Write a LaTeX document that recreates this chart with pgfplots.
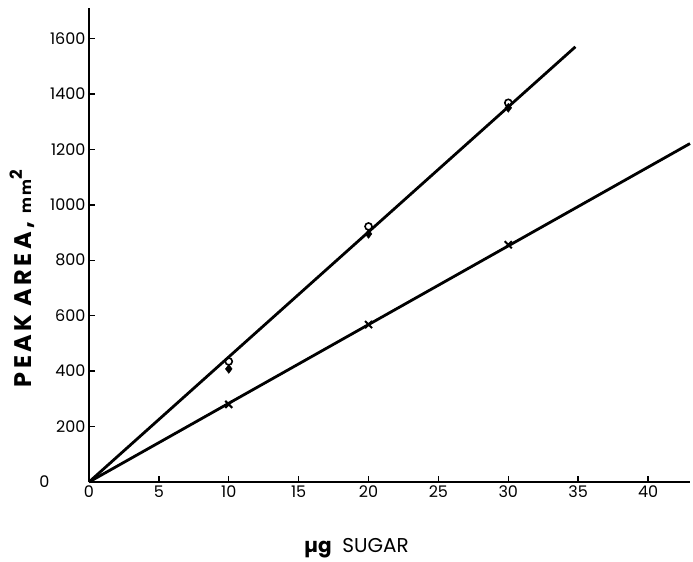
\documentclass[border=0pt]{standalone}
\usepackage{pgfplots}
\pgfplotsset{compat=1.18}
\usepackage{fontspec}
\setmainfont{Poppins}
\begin{document}
\begin{tikzpicture}
\begin{axis}[
  scale only axis, width=601pt, height=474pt,
  xmin=0, xmax=43, ymin=0, ymax=1710,
  axis lines=left, axis line style={-, line width=2pt},
  xtick={0,5,...,40}, ytick={200,400,...,1600},
  extra y ticks={0},
  extra y tick style={yticklabel style={xshift=-36pt}},
  tick align=inside, major tick length=6pt,
  tick style={line width=1.4pt, black},
  /pgf/number format/assume math mode=true,
  /pgf/number format/1000 sep={},
  ticklabel style={font=\fontsize{16}{18}\selectfont},
  xlabel={\fontsize{20}{22}\selectfont\textbf{µg}\ \ SUGAR},
  xlabel style={at={(axis description cs:0.445,0)}, anchor=center, yshift=-66pt},
  ylabel={\fontsize{24}{26}\selectfont\bfseries\addfontfeature{LetterSpace=14}PEAK\ AREA, {\fontsize{15}{17}\selectfont mm}$^{\mathbf 2}$},
  ylabel style={at={(axis description cs:-0.1115,0.43)}, anchor=center},
  clip=false,
]
\path (rel axis cs:0,1) -- ++(0pt,8pt);
\path (rel axis cs:0,0) -- ++(-89pt,-76pt);
\path (rel axis cs:1,0) -- ++(3pt,0pt);
\addplot[black, line width=2.8pt, no marks] coordinates {(0,0) (34.8,1570)};
\addplot[black, line width=2.8pt, no marks] coordinates {(0,0) (43,1221)};
% open circles
\addplot[only marks, mark=o, mark size=3.5pt, mark options={line width=1.6pt, fill=white}, black] coordinates {(10,435) (20,922) (30,1368)};
% filled diamonds
\addplot[only marks, mark=diamond*, mark size=4.5pt, black] coordinates {(10,408) (20,895) (30,1350)};
% crosses
\addplot[only marks, mark=x, mark size=5pt, mark options={line width=2pt}, black] coordinates {(10,280) (20,568) (30,856)};
\end{axis}
\end{tikzpicture}
\end{document}
